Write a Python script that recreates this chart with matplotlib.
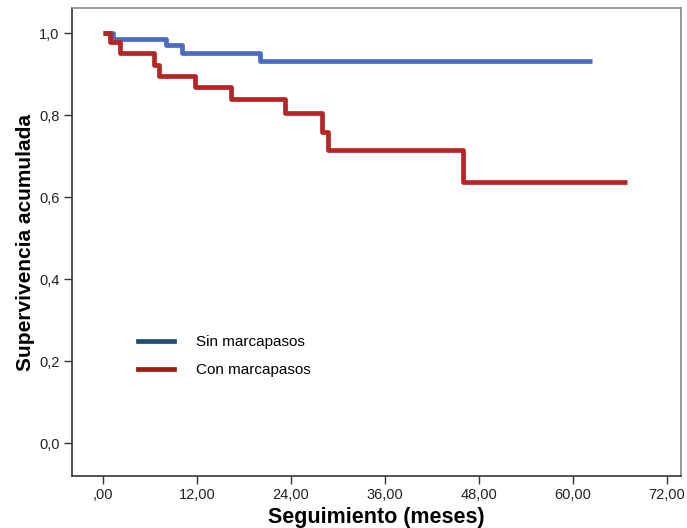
import matplotlib
matplotlib.use('Agg')
import matplotlib.pyplot as plt
from matplotlib.lines import Line2D

plt.rcParams['font.family'] = ['Liberation Sans', 'DejaVu Sans']

# Kaplan-Meier: tiempos de los escalones (meses) y supervivencia acumulada
sin_t = [0.0, 1.3, 8.0, 10.1, 20.0, 62.4]
sin_s = [1.0, 0.985, 0.971, 0.952, 0.932, 0.932]

con_t = [0.0, 0.9, 2.2, 6.5, 7.2, 11.7, 16.3, 23.2, 27.9, 28.7, 46.0, 66.9]
con_s = [1.0, 0.979, 0.951, 0.922, 0.896, 0.868, 0.839, 0.804, 0.759, 0.716, 0.637, 0.637]

xticks = [0, 12, 24, 36, 48, 60, 72]
xlabels = [',00', '12,00', '24,00', '36,00', '48,00', '60,00', '72,00']
yticks = [0.0, 0.2, 0.4, 0.6, 0.8, 1.0]
ylabels = ['0,0', '0,2', '0,4', '0,6', '0,8', '1,0']

fig = plt.figure(figsize=(6.87, 5.28), dpi=100)
ax = fig.add_axes([0.1048, 0.0985, 0.8865, 0.8863])

ax.step(sin_t, sin_s, where='post', color='#4a6cc3', lw=3.4, solid_capstyle='butt')
ax.step(con_t, con_s, where='post', color='#b52524', lw=3.4, solid_capstyle='butt')

ax.set_xlim(-3.96, 73.8)
ax.set_ylim(-0.080, 1.061)
ax.set_xticks(xticks)
ax.set_xticklabels(xlabels)
ax.set_yticks(yticks)
ax.set_yticklabels(ylabels)

for lab in ax.get_xticklabels() + ax.get_yticklabels():
    lab.set_fontfamily(['Liberation Sans Narrow', 'Liberation Sans', 'DejaVu Sans'])
    lab.set_fontsize(10.5)
    lab.set_color('#222222')
ax.tick_params(direction='out', length=6, width=1, color='#333333', pad=3)

for side in ['left', 'bottom']:
    ax.spines[side].set_color('#333333')
    ax.spines[side].set_linewidth(1.2)
for side in ['top', 'right']:
    ax.spines[side].set_color('#888888')
    ax.spines[side].set_linewidth(1.2)

ax.set_xlabel('Seguimiento (meses)', fontsize=15.5, fontweight='bold', labelpad=3)
ax.set_ylabel('Supervivencia acumulada', fontsize=15, fontweight='bold', labelpad=3)

handles = [Line2D([], [], color='#1f4e7a', lw=3.4),
           Line2D([], [], color='#a01a10', lw=3.4)]
ax.legend(handles, ['Sin marcapasos', 'Con marcapasos'], loc='upper left',
          bbox_to_anchor=(0.085, 0.33), frameon=False, handlelength=2.4,
          handletextpad=1.4, labelspacing=0.9, fontsize=11)

fig.savefig('out.png', dpi=100)
